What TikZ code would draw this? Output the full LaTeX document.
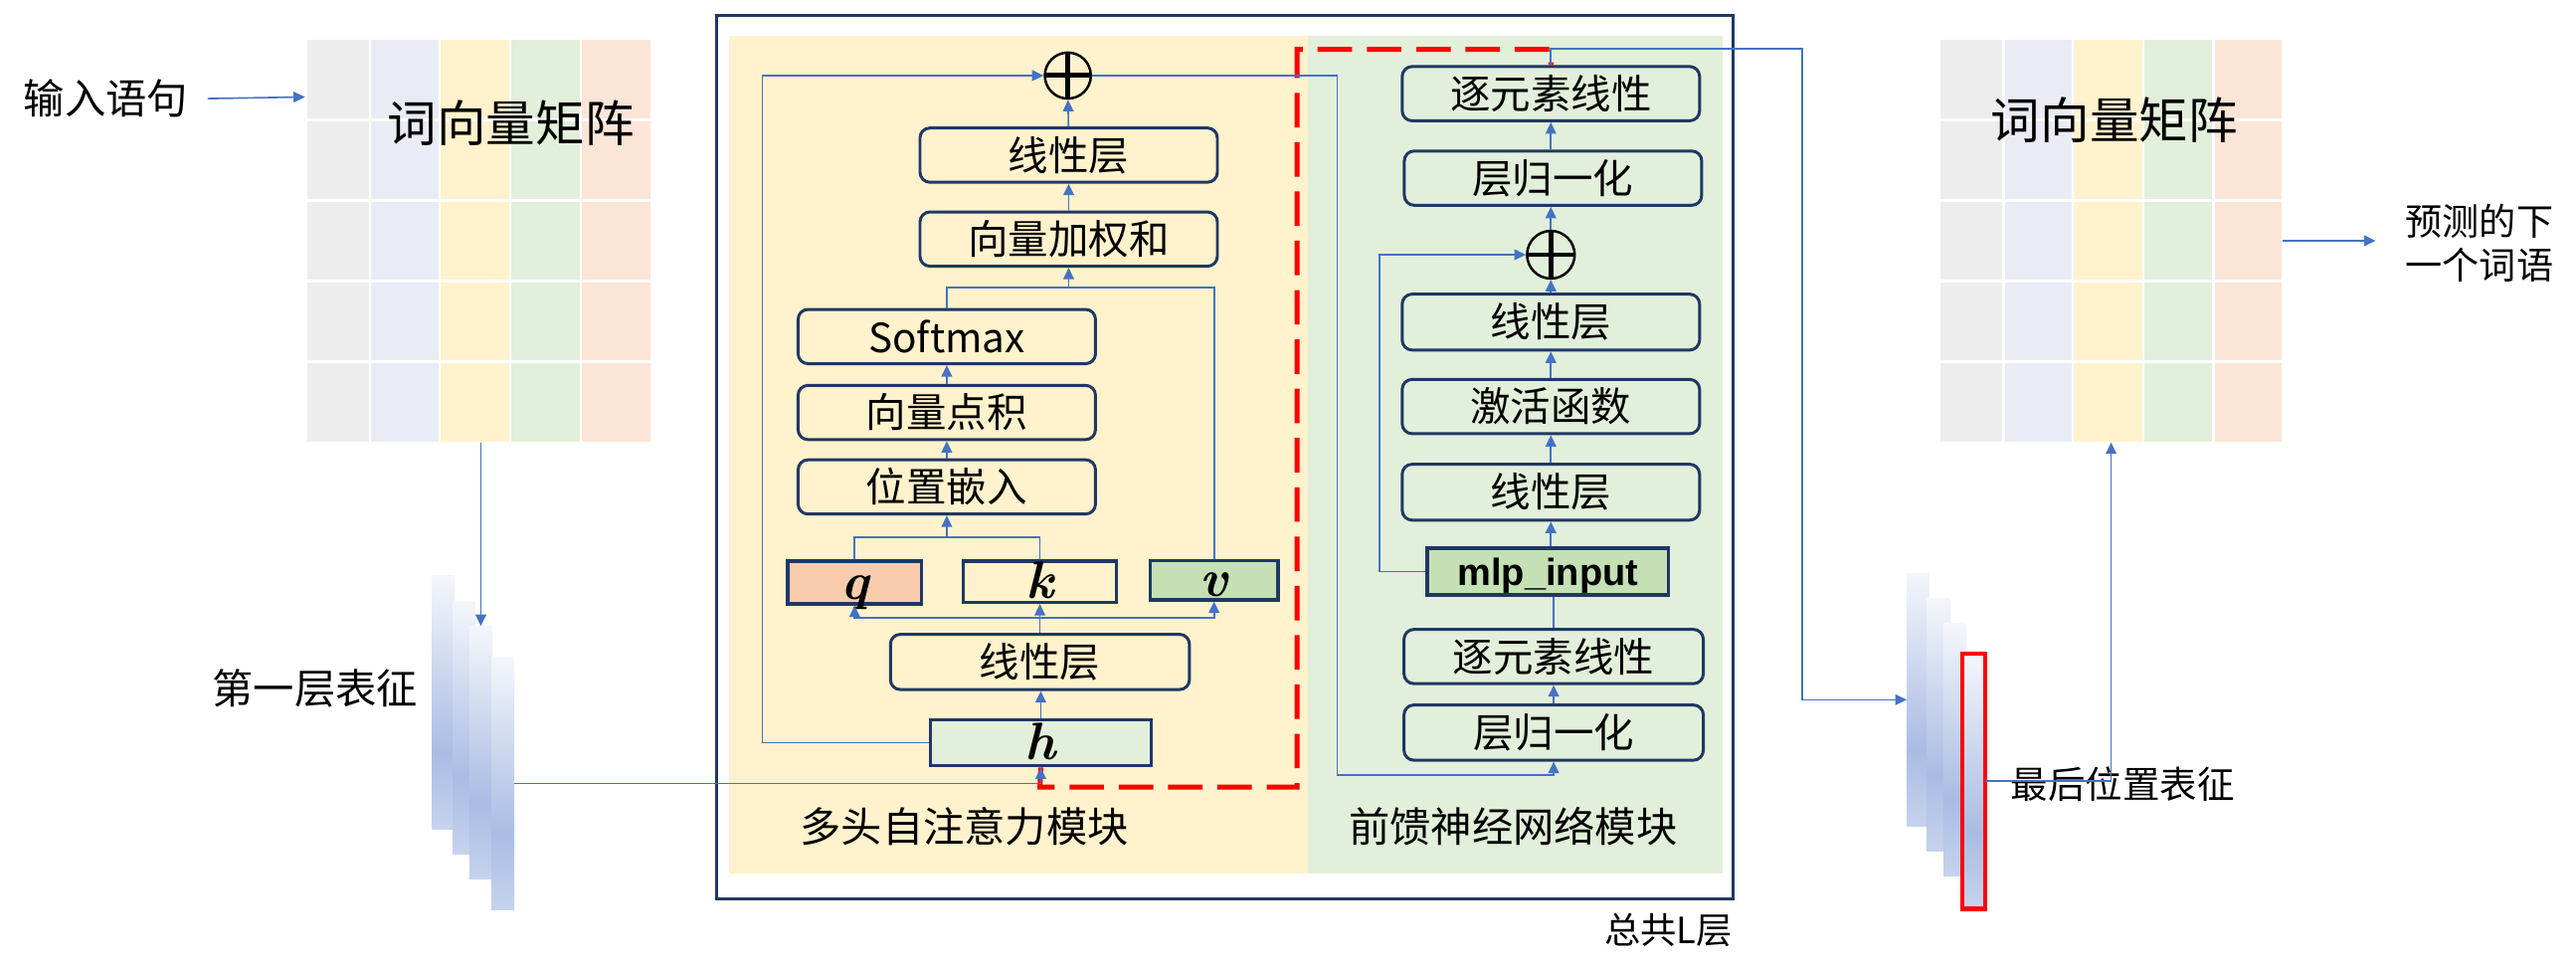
\documentclass[tikz,border=0pt]{standalone}
\usepackage{fontspec}
\newfontfamily\cjk{Noto Sans CJK SC}
\newfontfamily\latinsans{Liberation Sans}
\usetikzlibrary{arrows.meta}
\definecolor{navy}{HTML}{1F3864}
\definecolor{lineblue}{HTML}{4472C4}
\definecolor{panelY}{HTML}{FFF2CC}
\definecolor{panelG}{HTML}{E2EFDA}
\definecolor{qfill}{HTML}{F8CBAD}
\definecolor{vfill}{HTML}{C5E0B4}
\definecolor{colA}{HTML}{EDEDED}
\definecolor{colB}{HTML}{E9EBF5}
\definecolor{colC}{HTML}{FFF2CC}
\definecolor{colD}{HTML}{E2EFDA}
\definecolor{colE}{HTML}{FBE5D6}
\definecolor{barTop}{HTML}{F4F6FB}
\definecolor{barDark}{HTML}{A9BCE3}
\definecolor{barBot}{HTML}{C6D3EE}
\definecolor{redline}{HTML}{FF0000}
\pgfdeclareverticalshading{barshade}{100bp}{color(0bp)=(barBot); color(25bp)=(barBot); color(40bp)=(barDark); color(75bp)=(barTop); color(100bp)=(barTop)}
\tikzset{
  rbox/.style={draw=navy, line width=1.8pt, rounded corners=6pt, minimum width=181pt, minimum height=33pt, inner sep=0pt, font={\cjk\fontsize{24.5}{28}\selectfont}},
  vbox/.style={draw=navy, line width=2pt, minimum height=26pt, inner sep=0pt, text height=20pt, text depth=0pt, font={\fontsize{32}{34}\selectfont\bfseries\itshape}},
  conn/.style={draw=lineblue, line width=1pt},
  arr/.style={conn, -{Triangle[length=7pt,width=6.5pt]}},
  addnode/.style={circle, draw=black, line width=1.5pt, minimum size=28pt, inner sep=0pt,
    path picture={\draw[black, line width=3pt] (path picture bounding box.north) -- (path picture bounding box.south) (path picture bounding box.west) -- (path picture bounding box.east);}},
  bar/.style={shade, shading=barshade, minimum width=14pt, minimum height=154pt, inner sep=0pt, outer sep=0pt},
  lbl/.style={inner sep=0pt, font={\cjk\fontsize{25}{30}\selectfont}},
  bigl/.style={inner sep=0pt, font={\cjk\fontsize{30}{36}\selectfont}},
  reddash/.style={draw=redline, line width=3pt, dash pattern=on 21pt off 9pt},
  cellsep/.style={draw=white, line width=1.5pt},
}
\begin{document}
\begin{tikzpicture}[x=1pt,y=-1pt]
\useasboundingbox (0,0) rectangle (1568,593);

% ---------- left matrix ----------
\foreach \a/\b/\c in {187/225.2/colA, 225.2/267.5/colB, 267.5/310.5/colC, 310.5/353.6/colD, 353.6/396/colE}
  \fill[\c] (\a,24) rectangle (\b,269);
\foreach \x in {225.2,267.5,310.5,353.6} \draw[cellsep] (\x,24) -- (\x,269);
\foreach \y in {73,122,171,220} \draw[cellsep] (187,\y) -- (396,\y);
\node[minimum width=209pt, minimum height=245pt, inner sep=0pt] (lmat) at (291.5,146.5) {};
\node[bigl] (lmattext) at (311,75) {词向量矩阵};

% ---------- right matrix ----------
\foreach \a/\b/\c in {1181/1219.7/colA, 1219.7/1261.5/colB, 1261.5/1304.6/colC, 1304.6/1347.2/colD, 1347.2/1389/colE}
  \fill[\c] (\a,24) rectangle (\b,269);
\foreach \x in {1219.7,1261.5,1304.6,1347.2} \draw[cellsep] (\x,24) -- (\x,269);
\foreach \y in {73,122,171,220} \draw[cellsep] (1181,\y) -- (1389,\y);
\node[minimum width=208pt, minimum height=245pt, inner sep=0pt] (rmat) at (1285,146.5) {};
\node[bigl] (rmattext) at (1287,73) {词向量矩阵};

% ---------- labels ----------
\node[lbl] (inp) at (64.5,60) {输入语句};
\node[lbl] (first) at (191.7,418.7) {第一层表征};
\node[inner sep=0pt, font={\cjk\fontsize{22.7}{27}\selectfont}] (last) at (1292,477) {最后位置表征};
\node[inner sep=0pt, anchor=west, align=left, font={\cjk\fontsize{22.5}{27}\selectfont}] (pred) at (1464,148) {预测的下\\一个词语};

% ---------- representation bars ----------
\node[bar, minimum width=13.5pt] (b1) at (269.75,427.5) {};
\node[bar, minimum width=13.9pt] (b2) at (282.45,442.75) {};
\node[bar] (b3) at (292.7,457.9) {};
\node[bar] (b4) at (306,476.65) {};

\node[bar] (r1) at (1167.6,425.8) {};
\node[bar, minimum width=14.4pt] (r2) at (1179.8,441) {};
\node[bar] (r3) at (1190,456) {};
\node[bar, minimum height=155.5pt, draw=redline, line width=2.5pt] (r4) at (1201.45,475.25) {};

% ---------- panels ----------
\fill[panelY] (444,22) rectangle (796,531.6);
\fill[panelG] (796,22) rectangle (1048.5,531.6);
\draw[navy, line width=2pt] (436,9.5) rectangle (1055,547);
\node[lbl] (attnlbl) at (587,503) {多头自注意力模块};
\node[lbl] (ffnlbl) at (921,503) {前馈神经网络模块};
\node[inner sep=0pt, font={\cjk\fontsize{22}{26}\selectfont}] (total) at (1015.5,566) {总共L层};

% ---------- red dashed region ----------
\coordinate (rd1) at (633,479);
\coordinate (rd2) at (789.5,479);
\coordinate (rd3) at (789.5,30);
\coordinate (rd4) at (944,30);

% ---------- attention boxes ----------
\node[rbox] (lin2) at (650.5,94.4) {线性层};
\node[rbox] (wsum) at (650.5,145.5) {向量加权和};
\node[rbox] (soft) at (576.3,204.8) {Softmax};
\node[rbox] (dot) at (576.3,251) {向量点积};
\node[rbox] (pos) at (576.3,296.3) {位置嵌入};
\node[vbox, fill=qfill, minimum width=81.5pt] (q) at (520.2,354.5) {q};
\node[vbox, fill=panelY, minimum width=93pt, minimum height=25pt] (k) at (633,354) {k};
\node[vbox, fill=vfill, minimum width=78pt, minimum height=24pt] (v) at (739,353) {v};
\node[rbox, minimum width=182pt, minimum height=33.6pt] (lin1) at (633,402.8) {线性层};
\node[vbox, fill=panelG, minimum width=134.5pt, minimum height=28pt] (h) at (633.5,452) {h};
\node[addnode] (add1) at (650,46) {};

% ---------- FFN boxes ----------
\node[rbox] (ew2) at (944,57) {逐元素线性};
\node[rbox] (ln2) at (945.3,108.4) {层归一化};
\node[addnode, minimum size=29pt] (add2) at (944,155) {};
\node[rbox, minimum height=34pt] (fl2) at (944,196) {线性层};
\node[rbox] (act) at (944,247.4) {激活函数};
\node[rbox, minimum height=34pt] (fl1) at (944,299.5) {线性层};
\node[draw=navy, line width=2pt, fill=vfill, minimum width=146.8pt, minimum height=28.4pt, inner sep=0pt, text height=16.6pt, text depth=0pt, font={\latinsans\fontsize{23}{25}\selectfont\bfseries}] (mlp) at (942.2,347.8) {mlp\_input};
\node[rbox, minimum width=182.2pt] (ew1) at (945.7,399.5) {逐元素线性};
\node[rbox, minimum width=182.2pt, minimum height=33.6pt] (ln1) at (945.7,445.8) {层归一化};

\draw[reddash] (h.south) -- (rd1) -- (rd2) -- (rd3) -- (rd4) -- (ew2.north);

% ---------- connectors: outside ----------
\coordinate (inA) at (126.5,60);
\coordinate (inB) at (185.7,59);
\draw[arr] (inA) -- (inB);
\draw[arr] (lmat.south -| b3.north) -- (b3.north);
\draw[arr] (b4.east) -| (h.south);
\coordinate (o1) at (944,29.7);
\coordinate (o2) at (1097,29.7);
\draw[arr] (ew2.north) -- (o1) -- (o2) |- (r1.west);
\draw[arr] (r4.east) -| (rmat.south);
\coordinate (predA) at (1446,146.5);
\draw[arr] (rmat.east) -- (predA);

% ---------- connectors: attention ----------
\draw[arr] (h.north) -- (h.north |- lin1.south);
\coordinate (jqkv) at (633,376);
\draw[conn] (lin1.north) -- (jqkv);
\draw[arr] (jqkv) -| (q.south);
\draw[arr] (jqkv) -| (v.south);
\draw[arr] (jqkv) -- (k.south);
\coordinate (jqk) at (576.3,327);
\draw[conn] (q.north) |- (jqk) -| (k.north);
\draw[arr] (jqk) -- (pos.south);
\draw[arr] (pos) -- (dot);
\draw[arr] (dot) -- (soft);
\coordinate (jsv) at (650.5,175);
\draw[conn] (soft.north) |- (jsv) -| (v.north);
\draw[arr] (jsv) -- (wsum.south);
\draw[arr] (wsum) -- (lin2);
\draw[arr] (lin2) -- (add1);
\coordinate (resA) at (464,46);
\draw[arr] (h.west) -| (resA) -- (add1.west);
\coordinate (outA) at (814,46);
\coordinate (outB) at (814,471.6);
\draw[arr] (add1.east) -- (outA) -- (outB) -| (ln1.south);

% ---------- connectors: FFN ----------
\draw[arr] (ln1) -- (ew1);
\draw[conn] (ew1.north) -- (ew1.north |- mlp.south);
\draw[arr] (mlp.north -| fl1.south) -- (fl1.south);
\draw[arr] (fl1) -- (act);
\draw[arr] (act) -- (fl2);
\draw[arr] (fl2) -- (add2);
\draw[arr] (add2.north) -- (add2.north |- ln2.south);
\draw[arr] (ew2.south |- ln2.north) -- (ew2.south);
\coordinate (resB) at (839.7,155);
\draw[arr] (mlp.west) -| (resB) -- (add2.west);
\end{tikzpicture}
\end{document}
